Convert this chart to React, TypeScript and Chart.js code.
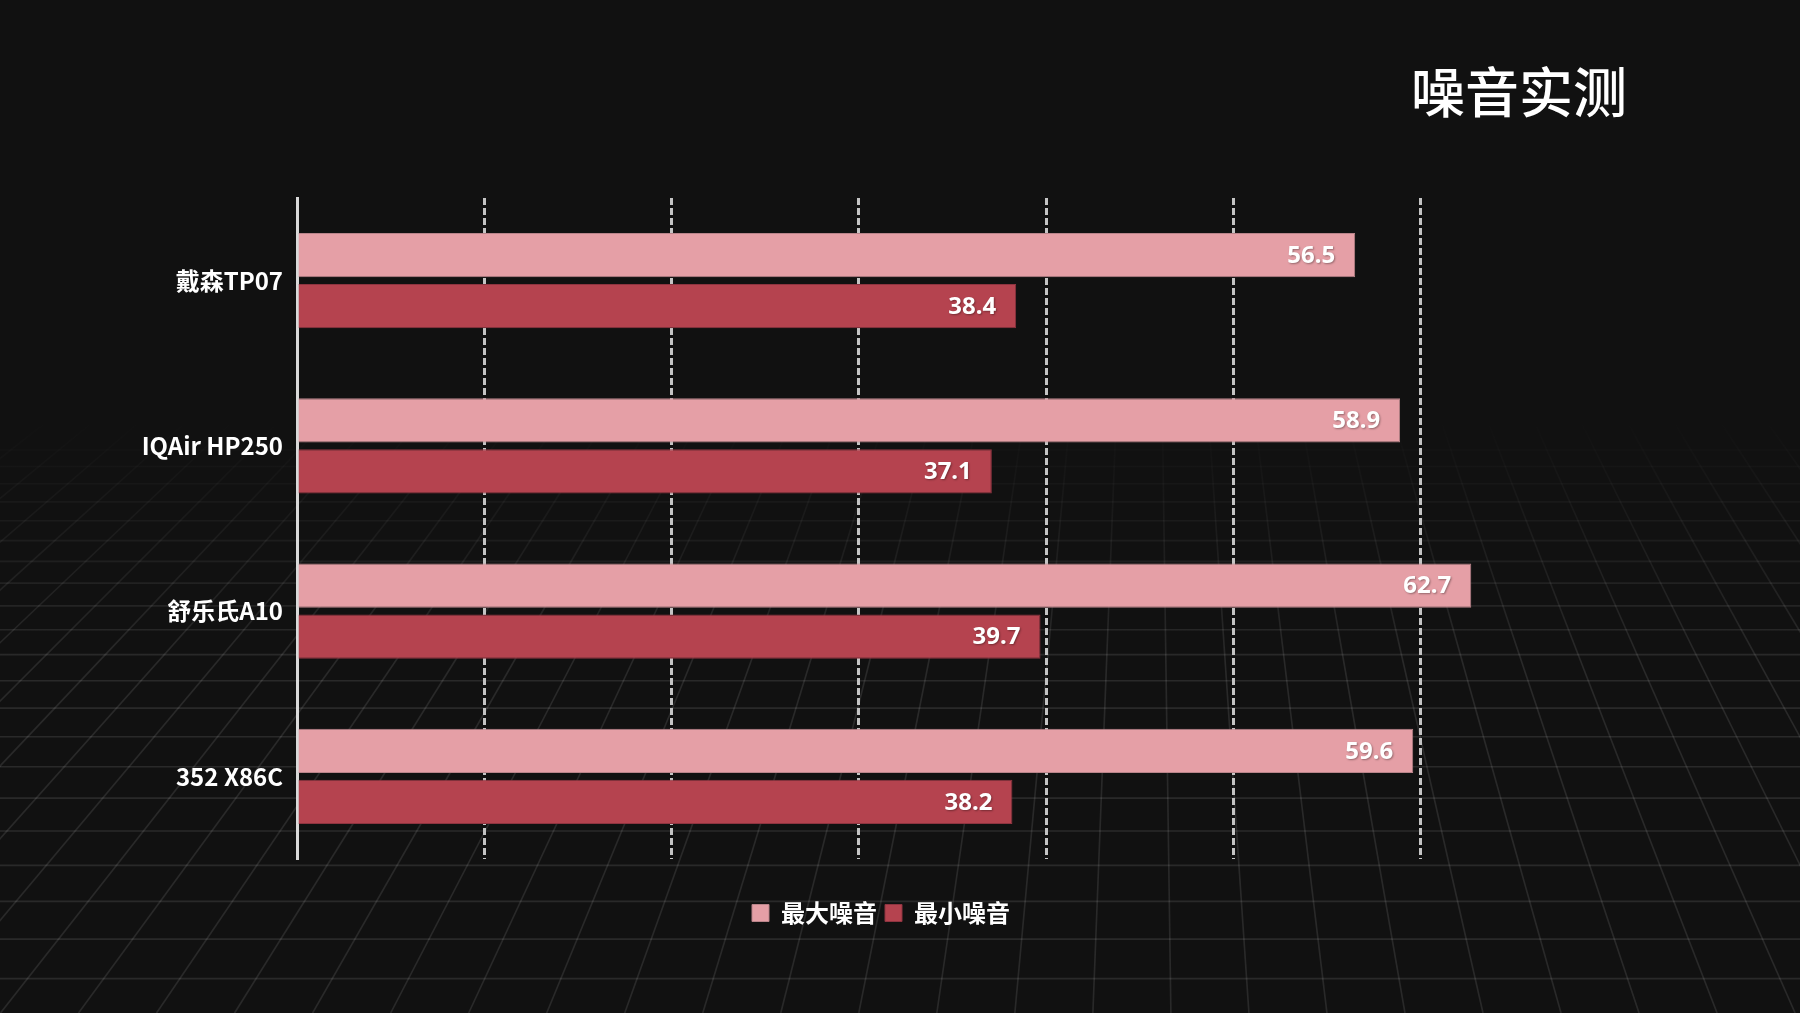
import React, { useEffect, useRef } from "react";
import { Chart, registerables } from "chart.js";

Chart.register(...registerables);

const categories = ["戴森TP07", "IQAir HP250", "舒乐氏A10", "352 X86C"];
const maxNoise = [56.5, 58.9, 62.7, 59.6];
const minNoise = [38.4, 37.1, 39.7, 38.2];
const seriesNames = ["最大噪音", "最小噪音"];
const titleText = "噪音实测";
const axisMin = 0;
const axisMax = 70;
const axisStep = 10;

const FONT = '"Noto Sans CJK SC", "Noto Sans", sans-serif';
const BG = "#111111";
const COLOR_MAX = "#e59fa6";
const COLOR_MIN = "#b5434f";

const backgroundPlugin = {
  id: "floorBackground",
  beforeDraw(chart: any) {
    const { ctx, width, height } = chart;
    ctx.save();
    ctx.fillStyle = BG;
    ctx.fillRect(0, 0, width, height);
    const horizonTop = 420;
    const grad = ctx.createLinearGradient(0, horizonTop, 0, 660);
    grad.addColorStop(0, "rgba(255,255,255,0)");
    grad.addColorStop(1, "rgba(255,255,255,0.10)");
    ctx.strokeStyle = grad;
    ctx.lineWidth = 1.6;
    const xv = 1150;
    const yv = -450;
    const refY = 600;
    for (let k = -34; k <= 14; k++) {
      const xr = 1333 + 56 * k;
      const f0 = (horizonTop - yv) / (refY - yv);
      const f1 = (height - yv) / (refY - yv);
      ctx.beginPath();
      ctx.moveTo(xv + (xr - xv) * f0, horizonTop);
      ctx.lineTo(xv + (xr - xv) * f1, height);
      ctx.stroke();
    }
    let y = 450;
    while (y < height) {
      ctx.beginPath();
      ctx.moveTo(0, y);
      ctx.lineTo(width, y);
      ctx.stroke();
      y += 16.5 + 0.047 * (y - 450);
    }
    ctx.restore();
  },
};

const valueLabelPlugin = {
  id: "valueLabels",
  afterDatasetsDraw(chart: any) {
    const { ctx } = chart;
    ctx.save();
    ctx.font = `bold 24px "Noto Sans", ${FONT}`;
    ctx.fillStyle = "#ffffff";
    ctx.textAlign = "right";
    ctx.textBaseline = "middle";
    ctx.shadowColor = "rgba(0,0,0,0.35)";
    ctx.shadowBlur = 2;
    ctx.shadowOffsetX = 1;
    ctx.shadowOffsetY = 1;
    chart.data.datasets.forEach((ds: any, di: number) => {
      const meta = chart.getDatasetMeta(di);
      meta.data.forEach((el: any, i: number) => {
        const v = ds.data[i];
        ctx.fillText(Number(v).toFixed(1), el.x - 20, el.y + 1);
      });
    });
    ctx.restore();
  },
};

const cornerTitlePlugin = {
  id: "cornerTitle",
  afterDraw(chart: any) {
    const { ctx, chartArea } = chart;
    ctx.save();
    ctx.font = `500 54px ${FONT}`;
    ctx.fillStyle = "#ffffff";
    ctx.textAlign = "right";
    ctx.textBaseline = "middle";
    ctx.fillText(titleText, chartArea.right + 19, chartArea.top - 106);
    ctx.restore();
  },
};

export default function App() {
  const canvasRef = useRef<HTMLCanvasElement | null>(null);

  useEffect(() => {
    if (!canvasRef.current) return;
    const chart = new Chart(canvasRef.current, {
      type: "bar",
      data: {
        labels: categories,
        datasets: [
          {
            label: seriesNames[0],
            data: maxNoise,
            backgroundColor: COLOR_MAX,
            borderColor: "#b9848a",
            borderWidth: 1,
            categoryPercentage: 0.618,
            barPercentage: 0.863,
          },
          {
            label: seriesNames[1],
            data: minNoise,
            backgroundColor: COLOR_MIN,
            borderColor: "#8e3440",
            borderWidth: 1,
            categoryPercentage: 0.618,
            barPercentage: 0.863,
          },
        ],
      },
      options: {
        indexAxis: "y",
        animation: false,
        responsive: true,
        maintainAspectRatio: false,
        layout: { padding: { left: 132, right: 170, top: 198, bottom: 78 } },
        scales: {
          x: {
            min: axisMin,
            max: axisMax,
            ticks: { display: false, stepSize: axisStep },
            border: { display: false, dash: [7, 3] },
            grid: {
              drawTicks: false,
              lineWidth: 3,
              color: (c: any) =>
                c.tick && (c.tick.value === axisMin || c.tick.value === axisMax)
                  ? "rgba(0,0,0,0)"
                  : "#c4c4c4",
            },
            afterFit(scale: any) {
              scale.height = 34;
            },
          } as any,
          y: {
            grid: { display: false, drawTicks: false },
            border: { display: true, color: "#d9d9d9", width: 3 },
            ticks: {
              color: "#ffffff",
              padding: 14,
              font: { family: FONT, size: 24, weight: "bold" },
            },
            afterFit(scale: any) {
              scale.width = 165;
            },
          } as any,
          yRight: {
            type: "category",
            position: "right",
            display: true,
            grid: { display: false, drawTicks: false },
            border: { display: false },
            ticks: { display: false },
            afterFit(scale: any) {
              scale.width = 22;
            },
          } as any,
        },
        plugins: {
          legend: {
            position: "bottom",
            labels: {
              color: "#ffffff",
              boxWidth: 17,
              boxHeight: 17,
              padding: 8,
              font: { family: FONT, size: 24, weight: "bold" },
            },
          },
          tooltip: { enabled: false },
          title: { display: false },
        },
      } as any,
      plugins: [backgroundPlugin, valueLabelPlugin, cornerTitlePlugin],
    });
    return () => chart.destroy();
  }, []);

  return (
    <div style={{ position: "fixed", left: 0, top: 0, width: 1800, height: 1013, background: BG }}>
      <canvas ref={canvasRef} />
    </div>
  );
}
